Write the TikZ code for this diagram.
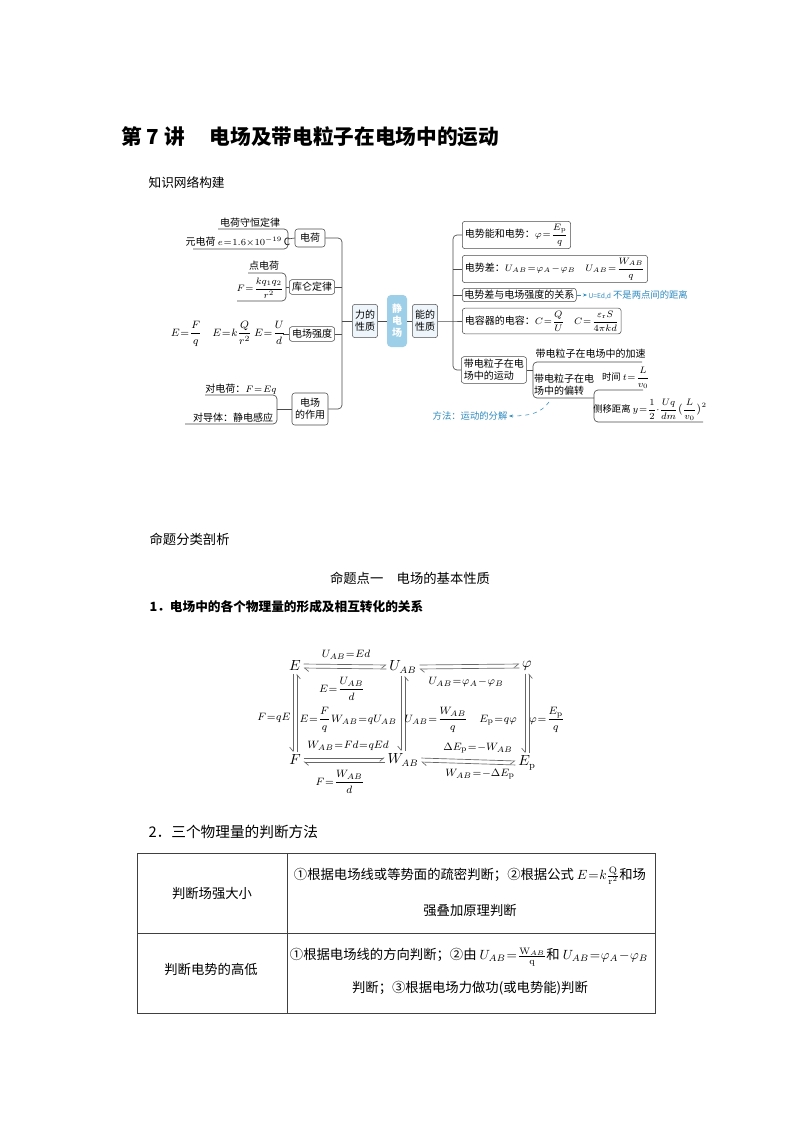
\documentclass[tikz,border=0pt]{standalone}
\usepackage[no-math]{fontspec}
\setmainfont{Noto Sans CJK SC}
\usepackage{amsmath}
\usetikzlibrary{arrows.meta}
\definecolor{hubblue}{HTML}{9DCFE8}
\definecolor{keyblue}{HTML}{EEF6FB}
\definecolor{noteblue}{HTML}{2E8BC0}
\newcommand\mapfont{\fontsize{7.5}{9}\selectfont}
\thickmuskip=1mu plus 1mu
\medmuskip=1mu plus 1mu
\begin{document}
\begin{tikzpicture}[x=0.75pt, y=-0.75pt,
        every node/.style={inner sep=1pt},
        txt/.style={font=\mapfont},
        mbox/.style={draw=black!70, rounded corners=2pt, fill=white, font=\mapfont,
                     inner sep=2pt, align=center},
        kbox/.style={mbox, fill=keyblue, minimum width=18pt, minimum height=25pt},
        hub/.style={rounded corners=3pt, fill=hubblue, text=white, font=\mapfont\bfseries,
                    align=center, minimum width=15pt, minimum height=39pt, inner sep=1pt},
        line/.style={draw=black!70, line width=0.5pt},
        brk/.style={line, rounded corners=3pt},
        note/.style={text=noteblue, font=\fontsize{7}{8}\selectfont},
        notearrow/.style={draw=noteblue, dashed, line width=0.4pt, -{Stealth[length=3pt]}},
        vtx/.style={font=\fontsize{10.5}{12}\selectfont},
        lab/.style={font=\fontsize{8.5}{10}\selectfont},
        hr/.style={draw=black!60, line width=0.5pt, shorten <=1pt, shorten >=1pt,
                   -{Straight Barb[harpoon,swap,length=3pt,width=5pt]}},
        hl/.style={draw=black!60, line width=0.5pt, shorten <=1pt, shorten >=1pt,
                   -{Straight Barb[harpoon,length=3pt,width=5pt]}},
        tbl/.style={draw=black!75, line width=0.6pt},
        cell/.style={font=\fontsize{10}{13}\selectfont},
    ]
    \useasboundingbox (0,0) rectangle (794,1123);
    \fill[white] (0,0) rectangle (794,1123);

    % headings
    \node[anchor=west, font=\fontsize{15.5}{18}\selectfont\bfseries] (title) at (120,137)
        {第 7 讲\hspace{1.2em}电场及带电粒子在电场中的运动};
    \node[anchor=west, font=\fontsize{9.5}{11}\selectfont] (zswl) at (147,183) {知识网络构建};

    % mind map, left half
    \node[txt] (dhsh) at (250,223) {电荷守恒定律};
    \node[txt] (ydh) at (238,242) {元电荷 $e=1.6{\times}10^{-19}\,$C};
    \node[mbox, minimum width=22.5pt, minimum height=13.5pt] (dh) at (310,238) {电荷};
    \draw[brk] (218,229) -- (288,229) -- (288,249) -- (193,249);
    \coordinate (b1) at (288,239);
    \draw[line] (b1) -- (dh.west);

    \node[txt] (ddh) at (264,266) {点电荷};
    \node[txt, font=\fontsize{7.5}{8}\selectfont] (kf) at (260,288) {$F=\dfrac{kq_1q_2}{r^2}$};
    \node[mbox, minimum width=31pt, minimum height=11pt] (kl) at (312,287) {库仑定律};
    \draw[brk] (248,273) -- (286,273) -- (286,301) -- (237,301);
    \coordinate (b2) at (286,287);
    \draw[line] (b2) -- (kl.west);

    \node[txt, font=\fontsize{8}{9}\selectfont] (eqs) at (228,334)
        {$E=\dfrac{F}{q}$\quad $E=k\dfrac{Q}{r^2}$\ $E=\dfrac{U}{d}$};
    \node[mbox, minimum width=33pt, minimum height=11pt] (qd) at (312,334) {电场强度};
    \coordinate (b3) at (283,334);
    \draw[line] (b3) -- (qd.west);

    \node[txt] (dch) at (241,389) {对电荷：$F=Eq$};
    \node[txt] (ddt) at (233,418) {对导体：静电感应};
    \node[mbox, minimum width=27pt, minimum height=24pt] (zy) at (310,409) {电场\\的作用};
    \draw[brk] (205,395) -- (277,395) -- (277,424) -- (185,424);
    \coordinate (b4) at (277,409);
    \draw[line] (b4) -- (zy.west);

    \coordinate (lb) at (342,321);
    \draw[brk] (dh.east) -- (dh.east -| lb) -- (zy.east -| lb) -- (zy.east);
    \draw[line] (kl.east) -- (kl.east -| lb);
    \draw[line] (qd.east) -- (qd.east -| lb);

    % centre
    \node[kbox] (lx) at (365,321) {力的\\性质};
    \node[hub] (jdc) at (397,321) {静\\电\\场};
    \node[kbox] (nx) at (425,321) {能的\\性质};
    \draw[line] (lb) -- (lx.west);
    \draw[line] (lx) -- (jdc);
    \draw[line] (jdc) -- (nx);

    % mind map, right half
    \coordinate (rb) at (453,321);
    \node[mbox, anchor=west] (r1) at (462,235) {电势能和电势：$\varphi=\dfrac{E_\mathrm{p}}{q}$};
    \node[mbox, anchor=west] (r2) at (462,269)
        {电势差：$U_{AB}=\varphi_A-\varphi_B$\quad $U_{AB}=\dfrac{W_{AB}}{q}$};
    \node[mbox, anchor=west, inner sep=1.5pt] (r3) at (462,295) {电势差与电场强度的关系};
    \node[mbox, anchor=west] (r4) at (462,321)
        {电容器的电容：$C=\dfrac{Q}{U}$\quad $C=\dfrac{\varepsilon_\mathrm{r}S}{4\pi kd}$};
    \node[mbox, anchor=west, align=left] (r5) at (461,370) {带电粒子在电\\场中的运动};
    \draw[line] (nx.east) -- (rb) -- (r4.west);
    \draw[brk] (r1.west) -- (r1.west -| rb) -- (r5.west -| rb) -- (r5.west);
    \draw[line] (r2.west -| rb) -- (r2.west);
    \draw[line] (r3.west -| rb) -- (r3.west);

    \coordinate (cb) at (533,370);
    \draw[line] (r5.east) -- (cb);
    \draw[brk] (642,362) -- (533,362) -- (533,398) -- (594,398);
    \draw[brk] (643,390) -- (594,390) -- (594,422) -- (703,422);
    \node[txt, anchor=west] (js) at (534,354) {带电粒子在电场中的加速};
    \node[txt, align=left] (pz) at (564,385) {带电粒子在电\\场中的偏转};
    \node[txt, font=\fontsize{7}{8}\selectfont] (sj) at (626,378) {时间 $t=\dfrac{L}{v_0}$};
    \node[txt, font=\fontsize{7}{8}\selectfont] (cy) at (650,410)
        {侧移距离 $y=\dfrac{1}{2}{\cdot}\dfrac{Uq}{dm}\bigl(\dfrac{L}{v_0}\bigr)^2$};

    % notes
    \node[note, anchor=west] (ued) at (587,295) {{\fontsize{5}{6}\selectfont U=Ed,d} 不是两点间的距离};
    \draw[notearrow] (r3.east) -- (ued.west);
    \node[note] (ff) at (470,416) {方法：运动的分解};
    \coordinate (pzb) at (549,402);
    \draw[notearrow] (pzb) .. controls (541,413) and (530,416) .. (ff.east);

    % section two
    \node[anchor=west, font=\fontsize{10}{12}\selectfont] (mtfl) at (148,539) {命题分类剖析};
    \node[font=\fontsize{10}{12}\selectfont] (mtd) at (410,578) {命题点一\hspace{1em}电场的基本性质};
    \node[anchor=west, font=\fontsize{9.5}{11}\selectfont\bfseries] (sec1) at (148,607)
        {1．电场中的各个物理量的形成及相互转化的关系};

    % quantities
    \node[vtx] (E) at (295,666) {$E$};
    \node[vtx] (U) at (403,667) {$U_{AB}$};
    \node[vtx] (phi) at (527,666) {$\varphi$};
    \node[vtx] (F) at (295,760) {$F$};
    \node[vtx] (W) at (403,760) {$W_{AB}$};
    \node[vtx] (Ep) at (527,763) {$E_\mathrm{p}$};

    \draw[hr] ([yshift=1.5pt]E.east) -- ([yshift=1.5pt]U.west);
    \draw[hl] ([yshift=-1.5pt]U.west) -- ([yshift=-1.5pt]E.east);
    \draw[hr] ([yshift=1.5pt]U.east) -- ([yshift=1.5pt]phi.west);
    \draw[hl] ([yshift=-1.5pt]phi.west) -- ([yshift=-1.5pt]U.east);
    \draw[hr] ([yshift=1.5pt]F.east) -- ([yshift=1.5pt]W.west);
    \draw[hl] ([yshift=-1.5pt]W.west) -- ([yshift=-1.5pt]F.east);
    \draw[hr] ([yshift=1.5pt]W.east) -- ([yshift=1.5pt]Ep.west);
    \draw[hl] ([yshift=-1.5pt]Ep.west) -- ([yshift=-1.5pt]W.east);

    \draw[hr] ([xshift=1.5pt]F.north) -- ([xshift=1.5pt]E.south);
    \draw[hr] ([xshift=-1.5pt]E.south) -- ([xshift=-1.5pt]F.north);
    \draw[hr] ([xshift=1.5pt]W.north) -- ([xshift=1.5pt]U.south);
    \draw[hr] ([xshift=-1.5pt]U.south) -- ([xshift=-1.5pt]W.north);
    \draw[hr] ([xshift=1.5pt]Ep.north) -- ([xshift=1.5pt]phi.south);
    \draw[hr] ([xshift=-1.5pt]phi.south) -- ([xshift=-1.5pt]Ep.north);

    \node[lab] (l1) at (346,655) {$U_{AB}=Ed$};
    \node[lab] (l2) at (342,689) {$E=\dfrac{U_{AB}}{d}$};
    \node[lab] (l3) at (466,682) {$U_{AB}=\varphi_A-\varphi_B$};
    \node[lab] (l4) at (274,718) {$F=qE$};
    \node[lab] (l5) at (315,720) {$E=\dfrac{F}{q}$};
    \node[lab] (l6) at (364,720) {$W_{AB}=qU_{AB}$};
    \node[lab] (l7) at (436,720) {$U_{AB}=\dfrac{W_{AB}}{q}$};
    \node[lab] (l8) at (498,720) {$E_\mathrm{p}=q\varphi$};
    \node[lab] (l9) at (547,720) {$\varphi=\dfrac{E_\mathrm{p}}{q}$};
    \node[lab] (l10) at (348,746) {$W_{AB}=Fd=qEd$};
    \node[lab] (l11) at (340,782) {$F=\dfrac{W_{AB}}{d}$};
    \node[lab] (l12) at (478,748) {$\Delta E_\mathrm{p}=-W_{AB}$};
    \node[lab] (l13) at (480,774) {$W_{AB}=-\Delta E_\mathrm{p}$};

    % table
    \node[anchor=west, font=\fontsize{11}{13}\selectfont] (sec2) at (147,832) {2．三个物理量的判断方法};
    \draw[tbl] (137,853) rectangle (655,1013);
    \draw[tbl] (137,933) -- (655,933);
    \draw[tbl] (287,853) -- (287,1013);
    \node[cell] (c11) at (212,893) {判断场强大小};
    \node[cell] (c12a) at (470,876)
        {①根据电场线或等势面的疏密判断；②根据公式 $E=k\frac{\mathrm{Q}}{\mathrm{r}^2}$和场};
    \node[cell] (c12b) at (470,910) {强叠加原理判断};
    \node[cell] (c21) at (211,969) {判断电势的高低};
    \node[cell] (c22a) at (469,957)
        {①根据电场线的方向判断；②由 $U_{AB}=\frac{\mathrm{W}_{AB}}{\mathrm{q}}$和 $U_{AB}=\varphi_A-\varphi_B$};
    \node[cell] (c22b) at (470,988) {判断；③根据电场力做功(或电势能)判断};
\end{tikzpicture}
\end{document}
